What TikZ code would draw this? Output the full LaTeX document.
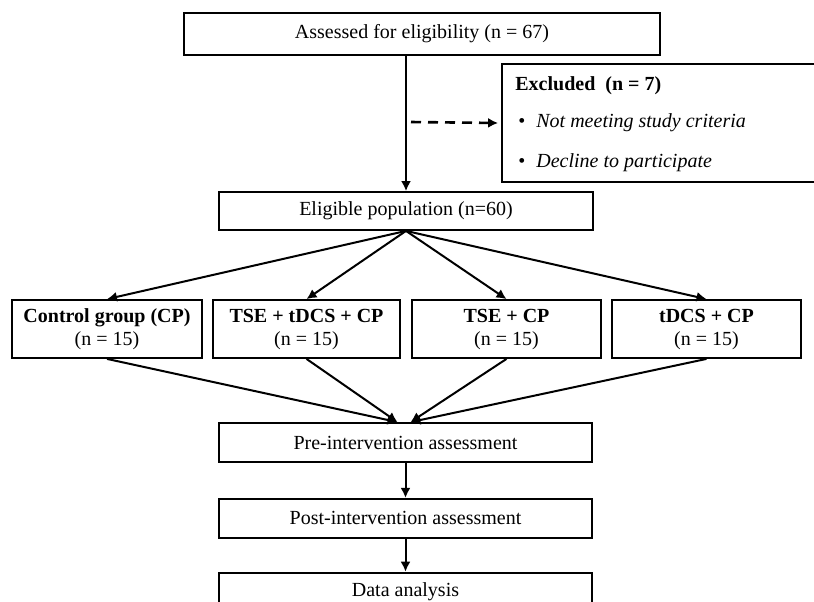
\documentclass[tikz,border=0pt]{standalone}
\usepackage{fontspec}
\setmainfont{Liberation Serif}
\usetikzlibrary{arrows.meta}
\usetikzlibrary{positioning}

\tikzset{
  box/.style={draw,line width=0.9pt,inner sep=0pt,align=center,
    font=\fontsize{10}{11.5}\selectfont},
  wide/.style={box,minimum width=186.5pt,minimum height=19.5pt},
  grpbox/.style={box,minimum height=29pt},
  note/.style={anchor=base west,inner sep=0pt,font=\fontsize{10}{12}\selectfont},
  arr/.style={line width=1pt,-{Latex[length=5pt,width=5pt]}},
  dasharr/.style={arr,line width=1.3pt,dash pattern=on 5pt off 3.5pt},
}

\begin{document}
\begin{tikzpicture}[x=0.5pt,y=-0.5pt]
  %
  \clip (0,0) rectangle (814,601);
  \fill[white] (0,0) rectangle (814,601);

  % screening
  \node[box,minimum width=238pt,minimum height=21pt] (assessed) at (422,34)
    {Assessed for eligibility (n = 67)};
  \node[box,minimum width=187pt,minimum height=19pt] (eligible) at (406,211)
    {Eligible population (n=60)};

  \node[draw,line width=0.9pt,minimum width=157pt,minimum height=59pt] (excluded) at (659,123) {};
  \node[note,font=\fontsize{10}{12}\selectfont\bfseries] (exclhead) at (515,90) {Excluded~ (n = 7)};
  \node[note] (exclcrit) at (518,127) {\textbullet\hspace{5.5pt}\textit{Not meeting study criteria}};
  \node[note] (excldecl) at (518,167) {\textbullet\hspace{5.5pt}\textit{Decline to participate}};

  \draw[arr] (eligible.north |- assessed.south) -- (eligible.north);
  \coordinate (split) at (411,122);
  \draw[dasharr] (split) -- ([xshift=-1.5pt]excluded.west);

  % groups
  \foreach \grp/\cx/\bw/\grptxt in {ctrl/107/95/Control group (CP),
      tsetdcs/306.5/93.5/TSE + tDCS + CP, tse/506.5/94.5/TSE + CP,
      tdcs/706.5/94.5/tDCS + CP} {
    \node[grpbox,minimum width=\bw pt] (\grp) at (\cx,329) {\textbf{\grptxt}\\(n = 15)};
    \draw[arr] (eligible.south) -- (\grp.north);
  }

  % assessments
  \node[wide] (pre) at (405.5,442.5) {Pre-intervention assessment};
  \node[wide,below=17.5pt of pre] (post) {Post-intervention assessment};
  \node[wide,below=16.5pt of post] (data) {Data analysis};

  \draw[arr] (ctrl.south) -- ([xshift=-4pt]pre.north);
  \draw[arr] (tsetdcs.south) -- ([xshift=-4pt]pre.north);
  \draw[arr] (tse.south) -- ([xshift=2.5pt]pre.north);
  \draw[arr] (tdcs.south) -- ([xshift=2.5pt]pre.north);
  \draw[arr] (pre) -- (post);
  \draw[arr] (post) -- (data);

\end{tikzpicture}
\end{document}
